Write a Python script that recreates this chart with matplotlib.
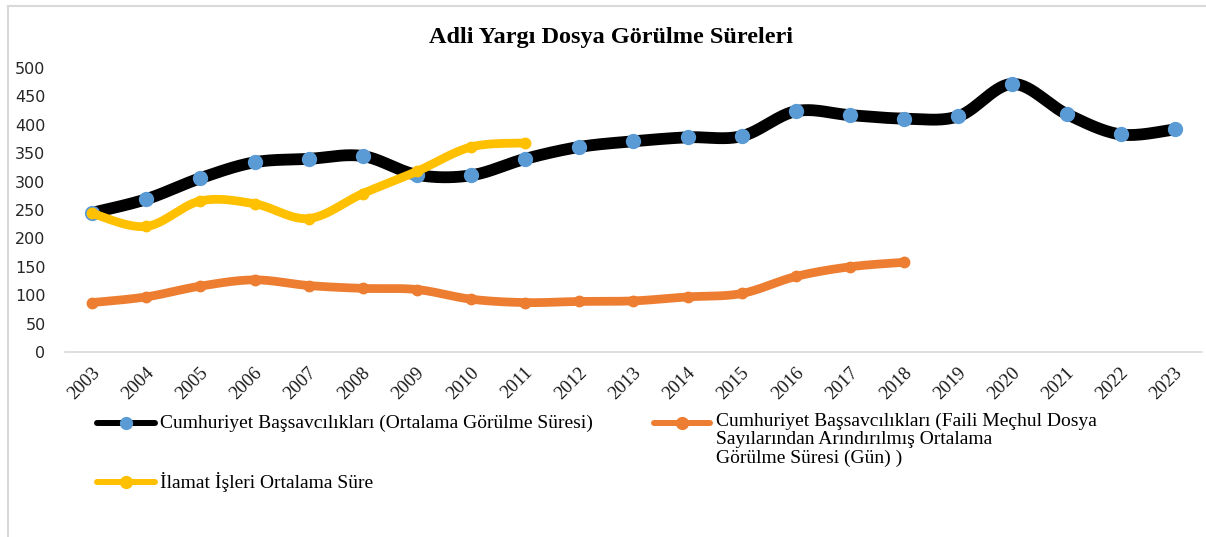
import numpy as np
import matplotlib
matplotlib.use("Agg")
import matplotlib.pyplot as plt
from matplotlib.lines import Line2D
from matplotlib.transforms import ScaledTranslation

# ---------------- data ----------------
years = [str(y) for y in range(2003, 2024)]
bassavcilik = [245, 269, 306, 334, 340, 345, 312, 311, 340, 361, 371,
               378, 380, 424, 417, 411, 415, 472, 419, 383, 392]
faili_mechul = [87, 97, 116, 127, 117, 112, 110, 93, 87, 89, 90,
                97, 103, 133, 150, 158]
ilamat = [244, 221, 266, 261, 235, 279, 318, 361, 368]
yticks = [0, 50, 100, 150, 200, 250, 300, 350, 400, 450, 500]

title = "Adli Yargı Dosya Görülme Süreleri"
lbl_black = "Cumhuriyet Başsavcılıkları (Ortalama Görülme Süresi)"
lbl_orange = ("Cumhuriyet Başsavcılıkları (Faili Meçhul Dosya\n"
              "Sayılarından Arındırılmış Ortalama\n"
              "Görülme Süresi (Gün) )")
lbl_yellow = "İlamat İşleri Ortalama Süre"

C_BLACK = "#000000"
C_BLUE = "#5B9BD5"
C_ORANGE = "#ED7D31"
C_YELLOW = "#FFC000"
SERIF = "Liberation Serif"


def smooth(yv, n=30):
    """Excel-like smoothed line (Catmull-Rom Bezier)."""
    x = np.arange(len(yv), dtype=float)
    y = np.asarray(yv, dtype=float)
    P = np.column_stack([x, y])
    P = np.vstack([P[0], P, P[-1]])
    out = []
    t = np.linspace(0, 1, n)[:, None]
    for i in range(1, len(P) - 2):
        p0, p1, p2, p3 = P[i - 1], P[i], P[i + 1], P[i + 2]
        c1 = p1 + (p2 - p0) / 6.0
        c2 = p2 - (p3 - p1) / 6.0
        seg = ((1 - t) ** 3) * p1 + 3 * ((1 - t) ** 2) * t * c1 \
            + 3 * (1 - t) * t ** 2 * c2 + t ** 3 * p2
        out.append(seg if i == 1 else seg[1:])
    S = np.vstack(out)
    return S[:, 0], S[:, 1]


W, H = 1206, 537
fig = plt.figure(figsize=(W / 100, H / 100), dpi=100)
ax = fig.add_axes([65 / W, (H - 352) / H, (1202 - 65) / W, (352 - 68) / H])

sx, sy = smooth(bassavcilik)
ax.plot(sx, sy, color=C_BLACK, lw=8.5, solid_capstyle="round", zorder=2)
ax.plot(range(len(bassavcilik)), bassavcilik, ls="none", marker="o",
        ms=10, mfc=C_BLUE, mec=C_BLUE, zorder=3)

sx, sy = smooth(faili_mechul)
ax.plot(sx, sy, color=C_ORANGE, lw=6.3, solid_capstyle="round", zorder=4)
ax.plot(range(len(faili_mechul)), faili_mechul, ls="none", marker="o",
        ms=7.5, mfc=C_ORANGE, mec=C_ORANGE, zorder=5)

sx, sy = smooth(ilamat)
ax.plot(sx, sy, color=C_YELLOW, lw=6.3, solid_capstyle="round", zorder=6)
ax.plot(range(len(ilamat)), ilamat, ls="none", marker="o",
        ms=7.5, mfc=C_YELLOW, mec=C_YELLOW, zorder=7)

ax.set_xlim(-0.5, len(years) - 0.5)
ax.set_ylim(0, 500)
ax.set_yticks(yticks)
ax.set_yticklabels([str(v) for v in yticks], family="DejaVu Sans",
                   fontsize=11.5, color="#262626")
ax.tick_params(axis="y", length=0, pad=14)
ax.set_xticks(range(len(years)))
ax.set_xticklabels(years, rotation=45, ha="right", va="center",
                   rotation_mode="anchor", family=SERIF, fontsize=13.5,
                   color="#1a1a1a")
ax.tick_params(axis="x", length=0, pad=13)
off = ScaledTranslation(5 / 100, 0, fig.dpi_scale_trans)
for lab in ax.get_xticklabels():
    lab.set_transform(lab.get_transform() + off)

for s in ["top", "right", "left"]:
    ax.spines[s].set_visible(False)
ax.spines["bottom"].set_color("#D9D9D9")
ax.spines["bottom"].set_linewidth(1.2)
ax.patch.set_alpha(0)

# title
fig.text(611 / W, 1 - 37 / H, title, ha="center", va="center",
         family=SERIF, fontweight="bold", fontsize=17.5)


# legend (manual, figure coordinates)
def leg_entry(x0, x1, y, col, mcol, lw, ms):
    yf = 1 - y / H
    fig.add_artist(Line2D([x0 / W, x1 / W], [yf, yf], color=col, lw=lw,
                          solid_capstyle="round"))
    fig.add_artist(Line2D([(x0 + x1) / 2 / W], [yf], color=col, ls="none",
                          marker="o", ms=ms, mfc=mcol, mec=mcol))


leg_entry(97, 155, 423, C_BLACK, C_BLUE, 4.3, 8.5)
fig.text(160 / W, 1 - 423 / H, lbl_black, ha="left", va="center",
         family=SERIF, fontsize=14)
leg_entry(654, 710, 423, C_ORANGE, C_ORANGE, 4.3, 8.5)
fig.text(716 / W, 1 - 413 / H, lbl_orange, ha="left", va="top",
         family=SERIF, fontsize=14, linespacing=1.08)
leg_entry(97, 155, 482, C_YELLOW, C_YELLOW, 4.3, 8.5)
fig.text(160 / W, 1 - 482 / H, lbl_yellow, ha="left", va="center",
         family=SERIF, fontsize=14)

# chart-area border (left & top visible)
fig.add_artist(Line2D([7.5 / W, 7.5 / W], [0, 1 - 6 / H], color="#D9D9D9", lw=1.5))
fig.add_artist(Line2D([7.5 / W, 1], [1 - 6 / H, 1 - 6 / H], color="#D9D9D9", lw=1.5))

fig.savefig("out.png", dpi=100, facecolor="white")
